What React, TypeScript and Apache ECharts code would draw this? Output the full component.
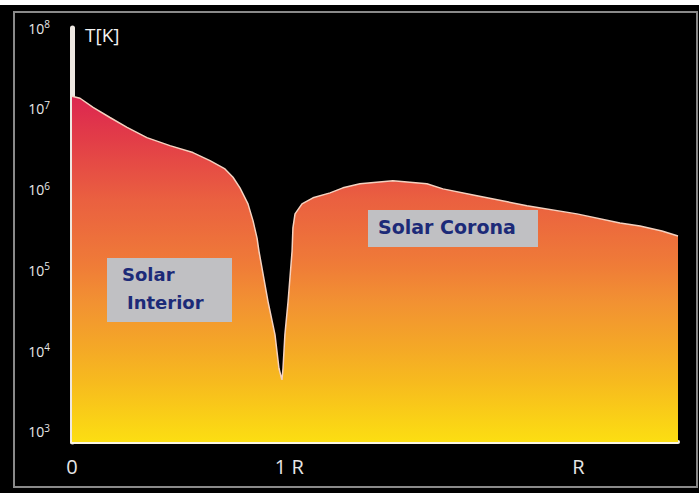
import React, { useEffect, useRef } from 'react';
import * as echarts from 'echarts';

// Distance from the solar centre (in R units, as on the axis) and temperature in K
const distanceR = [
  0.0, 0.038, 0.1, 0.18, 0.261, 0.355, 0.464, 0.573, 0.654, 0.725, 0.763, 0.796, 0.834,
  0.858, 0.877, 0.886, 0.929, 0.962, 0.981, 0.995, 1.0, 1.009, 1.024, 1.043, 1.047, 1.057,
  1.09, 1.142, 1.223, 1.284, 1.365, 1.521, 1.682, 1.758, 1.919, 2.156, 2.393, 2.597, 2.692,
  2.796, 2.872,
];
const temperatureK = [
  1.43e7, 1.35e7, 1.04e7, 7.8e6, 5.9e6, 4.4e6, 3.5e6, 2.87e6, 2.28e6, 1.8e6, 1.42e6, 1.05e6, 6.65e5,
  4.1e5, 2.5e5, 1.73e5, 4.1e4, 1.6e4, 6.1e3, 4.4e3, 6.1e3, 1.6e4, 4.1e4, 1.73e5, 3.35e5, 5.0e5,
  6.65e5, 7.9e5, 9.1e5, 1.05e6, 1.18e6, 1.29e6, 1.18e6, 1.02e6, 8.4e5, 6.3e5, 5.0e5, 3.86e5, 3.54e5,
  3.07e5, 2.66e5,
];

const yTickValues = [1e3, 1e4, 1e5, 1e6, 1e7, 1e8];
const yTickExponents = ['3', '4', '5', '6', '7', '8'];
const xTickValues = [0, 1.03, 2.4];
const xTickLabels = ['0', '1 R', 'R'];
const xMarkerValues = [1];
const yAxisTitle = 'T[K]';
const interiorLabel = ['Solar', 'Interior'];
const coronaLabel = 'Solar Corona';

export default function App() {
  const ref = useRef<HTMLDivElement>(null);

  useEffect(() => {
    const chart = echarts.init(ref.current!, null, { renderer: 'svg' });
    const labelFont = 'Comic Sans MS, "DejaVu Sans", sans-serif';
    chart.setOption({
      animation: false,
      backgroundColor: '#000',
      grid: { left: 72, right: 21, top: 28, bottom: 51, outerBoundsMode: 'none' },
      xAxis: {
        type: 'value',
        min: 0,
        max: distanceR[distanceR.length - 1],
        splitLine: { show: false },
        axisLine: { show: true, lineStyle: { color: '#fbf6e4', width: 4 } },
        axisTick: {
          show: true,
          customValues: xMarkerValues,
          inside: true,
          length: 14,
          lineStyle: { color: '#ffffff', width: 7 },
        },
        axisLabel: {
          customValues: xTickValues,
          formatter: (v: number) => {
            const i = xTickValues.findIndex((t) => Math.abs(t - v) < 1e-6);
            return i >= 0 ? xTickLabels[i] : '';
          },
          color: '#e6e6e6',
          fontSize: 20,
          fontFamily: '"Open Sans", "DejaVu Sans", sans-serif',
          margin: 14,
        },
      },
      yAxis: {
        type: 'log',
        logBase: 10,
        min: 750,
        max: 1e8,
        splitLine: { show: false },
        axisTick: { show: false },
        axisLine: { show: true, lineStyle: { color: '#eee8e2', width: 5 } },
        axisLabel: {
          margin: 22,
          formatter: (v: number) => {
            const i = yTickValues.findIndex((t) => Math.abs(Math.log10(t) - Math.log10(v)) < 1e-6);
            return i >= 0 ? `{b|10}{s|${yTickExponents[i]}}` : '';
          },
          rich: {
            b: { fontSize: 14, color: '#e8e8e8', lineHeight: 18, fontFamily: '"Open Sans", "DejaVu Sans", sans-serif' },
            s: { fontSize: 10, color: '#e8e8e8', lineHeight: 10, verticalAlign: 'top', fontFamily: '"Open Sans", "DejaVu Sans", sans-serif' },
          },
        },
      },
      series: [
        {
          type: 'line',
          data: distanceR.map((d, i) => [d, temperatureK[i]]),
          showSymbol: false,
          smooth: false,
          lineStyle: { color: '#f4d2c0', width: 1.5 },
          areaStyle: {
            origin: 'start',
            opacity: 1,
            color: new echarts.graphic.LinearGradient(0, 96, 0, 442, [
              { offset: 0, color: '#dc2650' },
              { offset: 0.12, color: '#e23c48' },
              { offset: 0.3, color: '#ea6040' },
              { offset: 0.48, color: '#ef7a38' },
              { offset: 0.6, color: '#f29232' },
              { offset: 0.71, color: '#f4a528' },
              { offset: 0.83, color: '#f7bb1e' },
              { offset: 0.97, color: '#fbd814' },
              { offset: 1, color: '#fcde12' },
            ], true),
          },
        },
      ],
      graphic: [
        { type: 'rect', z: 100, shape: { x: 0, y: 0, width: 699, height: 5 }, style: { fill: '#ffffff' }, silent: true },
        {
          type: 'rect',
          z: 100,
          shape: { x: 14, y: 12, width: 683, height: 475 },
          style: { fill: 'none', stroke: '#8a8a8a', lineWidth: 2 },
          silent: true,
        },
        {
          type: 'text',
          z: 100,
          left: 85,
          top: 25,
          style: { text: yAxisTitle, fill: '#f2f2f2', fontSize: 19, fontFamily: '"Open Sans", "DejaVu Sans", sans-serif' },
        },
        { type: 'rect', z: 100, shape: { x: 107, y: 258, width: 125, height: 64 }, style: { fill: '#c0c0c3' } },
        {
          type: 'text',
          z: 101,
          left: 122,
          top: 265,
          style: { text: interiorLabel[0], fill: '#1c2a78', fontSize: 18, fontWeight: 'bold', fontFamily: labelFont },
        },
        {
          type: 'text',
          z: 101,
          left: 127,
          top: 293,
          style: { text: interiorLabel[1], fill: '#1c2a78', fontSize: 18, fontWeight: 'bold', fontFamily: labelFont },
        },
        { type: 'rect', z: 100, shape: { x: 368, y: 210, width: 170, height: 37 }, style: { fill: '#c0c0c3' } },
        {
          type: 'text',
          z: 101,
          left: 378,
          top: 217,
          style: { text: coronaLabel, fill: '#1c2a78', fontSize: 19, fontWeight: 'bold', fontFamily: labelFont },
        },
      ],
    });
    return () => chart.dispose();
  }, []);

  return (
    <div
      ref={ref}
      style={{ position: 'absolute', left: 0, top: 0, width: 699, height: 493, background: '#000' }}
    />
  );
}
